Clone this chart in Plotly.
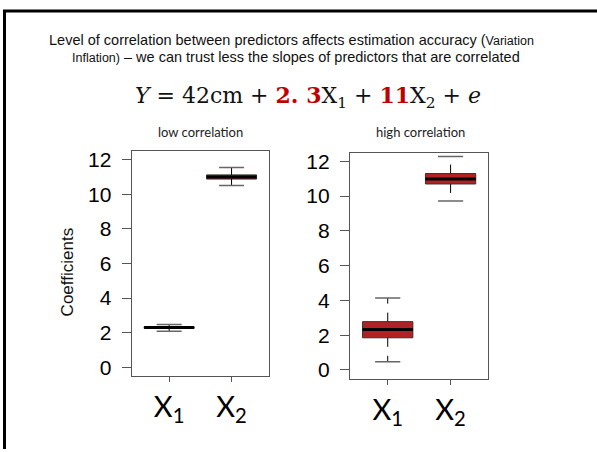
import plotly.graph_objects as go

# ---- data ----
groups = ["X1", "X2"]
tick_text = ["X<sub>1</sub>", "X<sub>2</sub>"]
positions = [1, 2]

low_lo = [2.09, 10.51]
low_q1 = [2.25, 10.88]
low_med = [2.30, 11.00]
low_q3 = [2.35, 11.12]
low_hi = [2.47, 11.54]

high_lo = [0.47, 9.72]
high_q1 = [1.85, 10.70]
high_med = [2.33, 10.98]
high_q3 = [2.78, 11.30]
high_hi = [4.14, 12.28]

y_ticks = [0, 2, 4, 6, 8, 10, 12]

W, H = 597, 452
BOXW = 0.8
FILL = "#B22222"
FRAME = "#555555"

fig = go.Figure()


def add_panel(xa, ya, lo, q1, med, q3, hi):
    for i, p in enumerate(positions):
        fig.add_trace(go.Box(
            x=[p], q1=[q1[i]], median=[med[i]], q3=[q3[i]],
            lowerfence=[q1[i]], upperfence=[q3[i]],
            width=BOXW, fillcolor=FILL, whiskerwidth=0,
            line=dict(color="#333333", width=1),
            xaxis=xa, yaxis=ya, showlegend=False, hoverinfo="skip"))
        # whiskers (dashed)
        fig.add_trace(go.Scatter(
            x=[p, p, None, p, p], y=[q3[i], hi[i], None, q1[i], lo[i]],
            mode="lines", line=dict(color="black", width=1, dash="dash"),
            xaxis=xa, yaxis=ya, showlegend=False, hoverinfo="skip"))
        # caps
        fig.add_trace(go.Scatter(
            x=[p - BOXW / 4, p + BOXW / 4, None, p - BOXW / 4, p + BOXW / 4],
            y=[hi[i], hi[i], None, lo[i], lo[i]],
            mode="lines", line=dict(color="#666666", width=1.5),
            xaxis=xa, yaxis=ya, showlegend=False, hoverinfo="skip"))
        # median (thick)
        fig.add_trace(go.Scatter(
            x=[p - BOXW / 2, p + BOXW / 2], y=[med[i], med[i]],
            mode="lines", line=dict(color="black", width=3),
            xaxis=xa, yaxis=ya, showlegend=False, hoverinfo="skip"))


add_panel("x", "y", low_lo, low_q1, low_med, low_q3, low_hi)
add_panel("x2", "y2", high_lo, high_q1, high_med, high_q3, high_hi)


def xaxis_cfg(domain):
    return dict(domain=domain, range=[0.4, 2.6], tickvals=positions, ticktext=tick_text,
                ticks="outside", ticklen=5, tickcolor=FRAME, showline=True, mirror=True,
                linecolor=FRAME, linewidth=1.2, showgrid=False, zeroline=False,
                tickfont=dict(family="Lato", size=29, color="black"), fixedrange=True)


def yaxis_cfg(domain, anchor):
    return dict(domain=domain, anchor=anchor, range=[-0.5, 12.5], tickvals=y_ticks,
                ticks="outside", ticklen=9, tickcolor=FRAME, showline=True, mirror=True,
                linecolor=FRAME, linewidth=1.2, showgrid=False, zeroline=False,
                ticklabelstandoff=6,
                tickfont=dict(family="Liberation Sans, Arial", size=21, color="black"))


fig.update_layout(
    width=W, height=H, margin=dict(l=0, r=0, t=0, b=0),
    paper_bgcolor="white", plot_bgcolor="white",
    xaxis=dict(**xaxis_cfg([131.7 / W, 269 / W]), anchor="y"),
    yaxis=yaxis_cfg([1 - 378 / H, 1 - 150 / H], "x"),
    xaxis2=dict(**xaxis_cfg([350 / W, 488.3 / W]), anchor="y2"),
    yaxis2=yaxis_cfg([1 - 380.7 / H, 1 - 151.7 / H], "x2"),
    showlegend=False,
)

small = "<span style='font-size:12.5px'>"
anns = [
    dict(text="Level of correlation between predictors affects estimation accuracy (" + small + "Variation</span>",
         x=291 / W, y=1 - 37 / H, font=dict(family="Liberation Sans, Arial", size=14.5, color="#111111")),
    dict(text=small + "Inflation)</span> – we can trust less the slopes of predictors that are correlated",
         x=296 / W, y=1 - 55 / H, font=dict(family="Liberation Sans, Arial", size=14.5, color="#111111")),
    dict(text="<i>Y</i> = 42cm + <b><span style='color:#C00000'>2. 3</span></b>X<sub>1</sub> + "
              "<b><span style='color:#C00000'>11</span></b>X<sub>2</sub> + <i>e</i>",
         x=308 / W, y=1 - 95 / H, font=dict(family="DejaVu Serif", size=22, color="#111111")),
    dict(text="low correlation", x=200 / W, y=1 - 131 / H,
         font=dict(family="Lato", size=13, color="#222222")),
    dict(text="high correlation", x=420 / W, y=1 - 131 / H,
         font=dict(family="Lato", size=13, color="#222222")),
    dict(text="Coefficients", x=67 / W, y=1 - 273 / H, textangle=-90,
         font=dict(family="Liberation Sans, Arial", size=17, color="#111111")),
]
for a in anns:
    fig.add_annotation(xref="paper", yref="paper", showarrow=False,
                       xanchor="center", yanchor="middle", **a)

# outer slide frame (left and top edges)
fig.add_shape(type="line", xref="paper", yref="paper", x0=4.5 / W, x1=4.5 / W, y0=0, y1=1 - 7 / H,
              line=dict(color="black", width=3))
fig.add_shape(type="line", xref="paper", yref="paper", x0=3 / W, x1=1, y0=1 - 8 / H, y1=1 - 8 / H,
              line=dict(color="black", width=3))

fig.write_html("out.html")
